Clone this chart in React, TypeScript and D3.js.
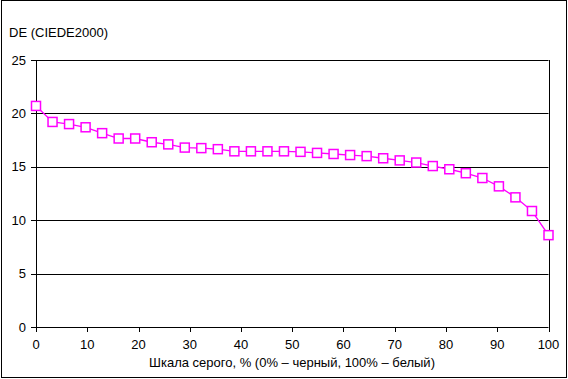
import React from "react";
import * as d3 from "d3";

const grayLevels: number[] = Array.from({ length: 32 }, (_, i) => (i * 100) / 31);
const deValues: number[] = [
  20.7, 19.2, 19.0, 18.7, 18.15, 17.65, 17.65, 17.3, 17.1, 16.8, 16.75, 16.65,
  16.45, 16.45, 16.45, 16.45, 16.4, 16.3, 16.2, 16.1, 16.0, 15.8, 15.6, 15.4,
  15.07, 14.77, 14.4, 13.95, 13.17, 12.14, 10.86, 8.6,
];
const yTicks: number[] = [0, 5, 10, 15, 20, 25];
const xTicks: number[] = [0, 10, 20, 30, 40, 50, 60, 70, 80, 90, 100];
const yTitle = "DE (CIEDE2000)";
const xTitle = "Шкала серого, % (0% – черный, 100% – белый)";

export default function App() {
  const W = 568;
  const H = 379;
  const left = 36;
  const right = 548.5;
  const top = 60;
  const bottom = 327;
  const x = d3.scaleLinear().domain([0, 100]).range([left, right]);
  const y = d3.scaleLinear().domain([0, 25]).range([bottom, top]);
  const pts = deValues.map((v, i) => [grayLevels[i], v] as [number, number]);
  const line = d3
    .line<[number, number]>()
    .x((d) => x(d[0]))
    .y((d) => y(d[1]))(pts);
  const font = "'Liberation Sans', Arial, sans-serif";
  const ms = 9;
  return (
    <svg
      width={W}
      height={H}
      style={{ position: "absolute", left: 0, top: 0, display: "block" }}
      fontFamily={font}
    >
      <rect x={0} y={0} width={W} height={H} fill="#fff" />
      <rect x={1.5} y={0.5} width={565} height={377} fill="none" stroke="#000" strokeWidth={1} />
      {yTicks.map((t) => (
        <g key={"y" + t}>
          <line
            x1={left - 5}
            x2={right}
            y1={Math.round(y(t)) + 0.5}
            y2={Math.round(y(t)) + 0.5}
            stroke="#000"
            strokeWidth={1}
          />
          <text x={26} y={y(t) + 4.5} textAnchor="end" fontSize={13} fill="#000">
            {t}
          </text>
        </g>
      ))}
      <line x1={left + 0.5} x2={left + 0.5} y1={top} y2={bottom + 1} stroke="#000" />
      <line x1={Math.round(right) + 0.5} x2={Math.round(right) + 0.5} y1={top} y2={bottom + 1} stroke="#000" />
      {xTicks.map((t) => (
        <g key={"x" + t}>
          <line
            x1={Math.round(x(t)) + 0.5}
            x2={Math.round(x(t)) + 0.5}
            y1={bottom}
            y2={bottom + 5}
            stroke="#000"
          />
          <text x={x(t)} y={349} textAnchor="middle" fontSize={13} fill="#000">
            {t}
          </text>
        </g>
      ))}
      <text x={9} y={37} fontSize={13} fill="#000">
        {yTitle}
      </text>
      <text x={292} y={367} textAnchor="middle" fontSize={13} fill="#000">
        {xTitle}
      </text>
      <path d={line ?? ""} fill="none" stroke="#FF00FF" strokeWidth={1.3} />
      {pts.map((d, i) => (
        <rect
          key={i}
          x={x(d[0]) - ms / 2}
          y={y(d[1]) - ms / 2}
          width={ms}
          height={ms}
          fill="#fff"
          stroke="#FF00FF"
          strokeWidth={1.5}
        />
      ))}
    </svg>
  );
}
